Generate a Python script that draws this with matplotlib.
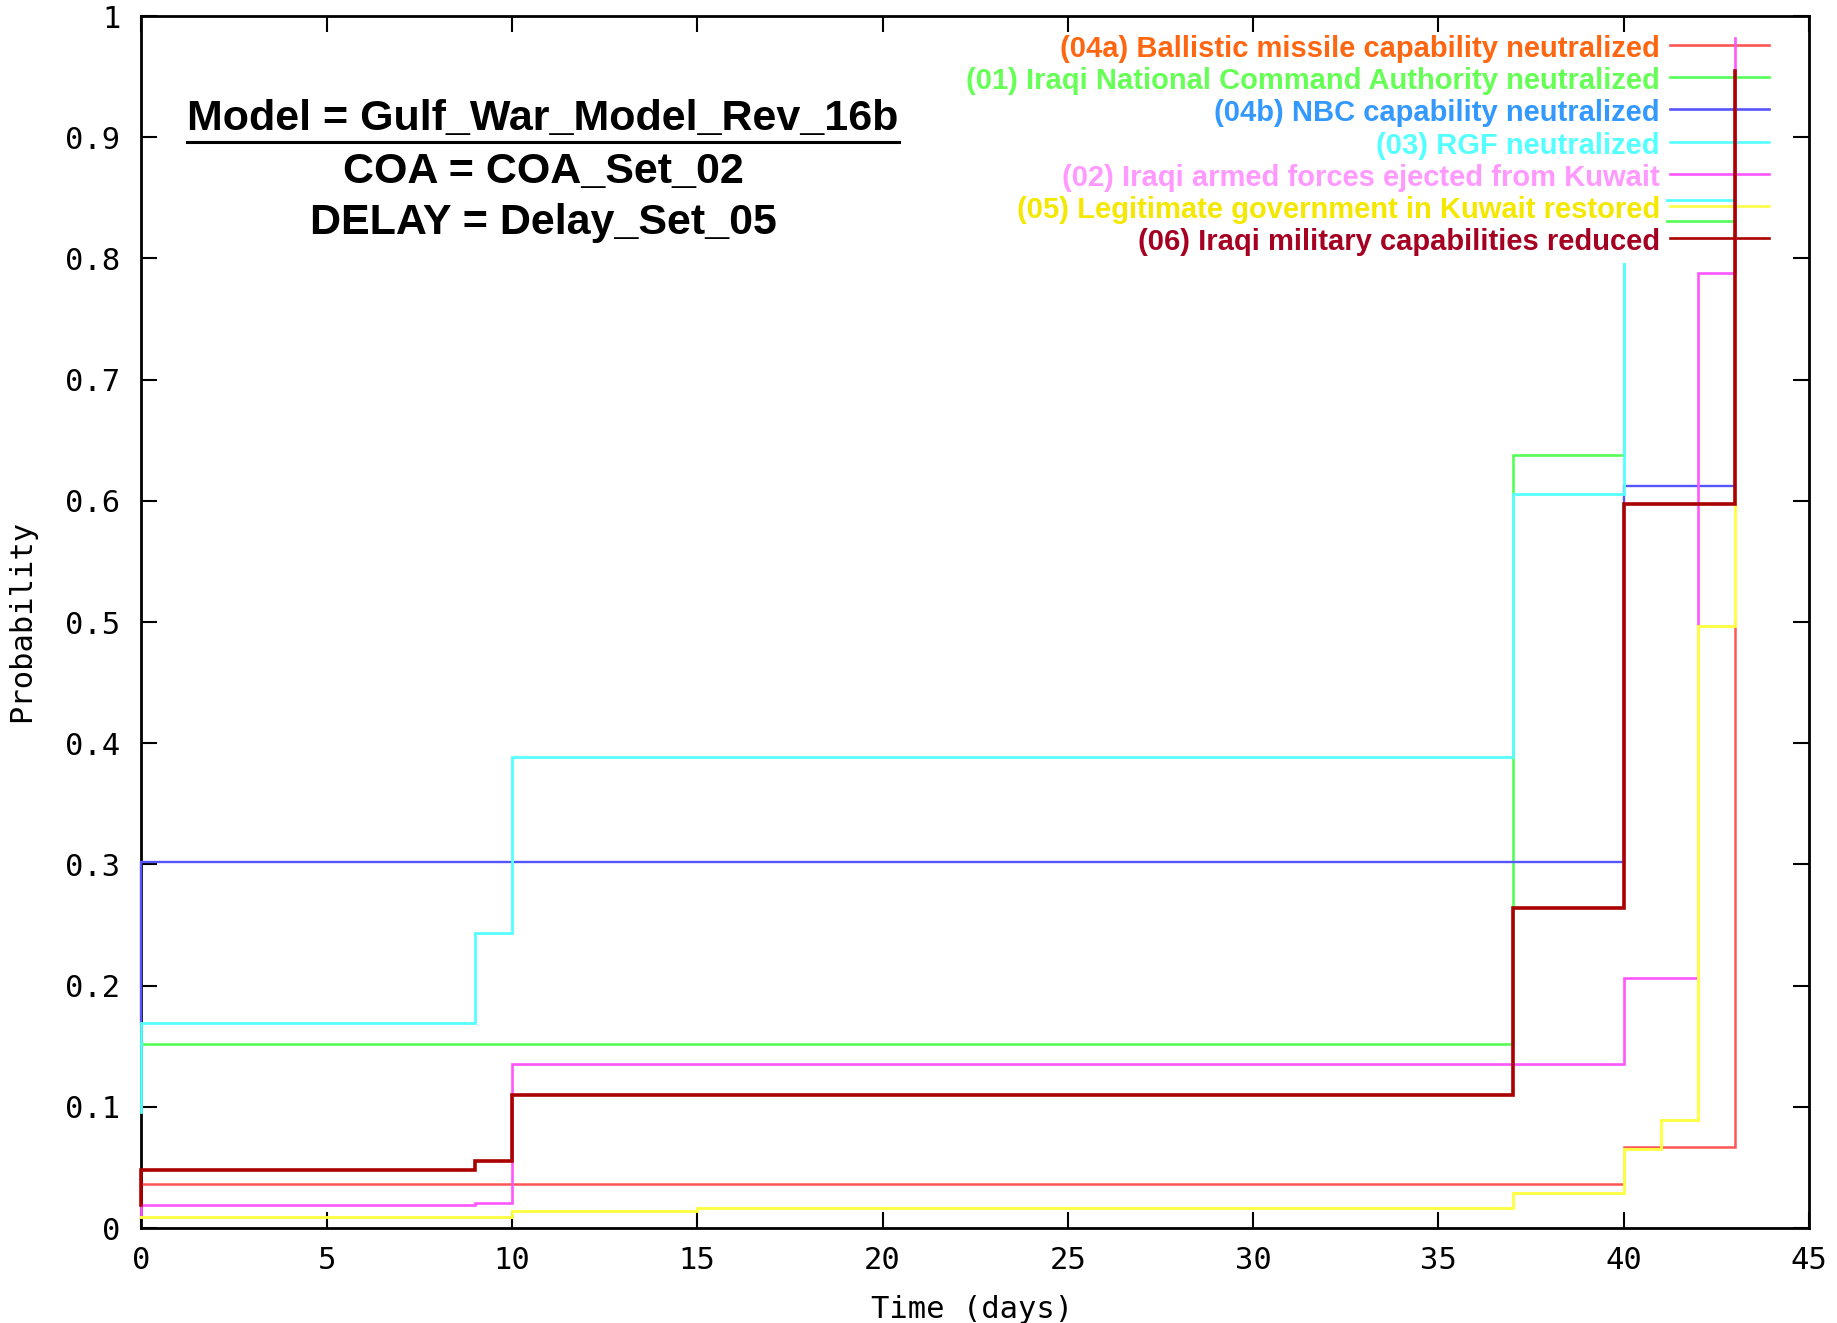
import matplotlib
matplotlib.use("Agg")
import matplotlib.pyplot as plt
from matplotlib.lines import Line2D
from matplotlib.patches import Rectangle

# ---------------- data ----------------
labels = [
    "(04a) Ballistic missile capability neutralized",
    "(01) Iraqi National Command Authority neutralized",
    "(04b) NBC capability neutralized",
    "(03) RGF neutralized",
    "(02) Iraqi armed forces ejected from Kuwait",
    "(05) Legitimate government in Kuwait restored",
    "(06) Iraqi military capabilities reduced",
]

t_04a = [0, 40, 43]
p_04a = [0.036, 0.067, 0.50]

t_01 = [0, 37, 40, 43]
p_01 = [0.1515, 0.638, 0.831, 0.831]

t_04b = [0, 0, 40, 43]
p_04b = [0.17, 0.302, 0.612, 0.612]

t_03 = [0, 0, 9, 10, 37, 40, 43]
p_03 = [0.096, 0.169, 0.243, 0.389, 0.606, 0.848, 0.848]

t_02 = [0, 0, 9, 10, 40, 42, 43]
p_02 = [0.011, 0.019, 0.021, 0.135, 0.206, 0.788, 0.982]

t_05 = [0, 10, 15, 37, 40, 41, 42, 43]
p_05 = [0.0088, 0.0138, 0.0165, 0.029, 0.065, 0.089, 0.497, 0.60]

t_06 = [0, 0, 9, 10, 37, 40, 43]
p_06 = [0.019, 0.048, 0.055, 0.110, 0.264, 0.597, 0.955]

series_t = [t_04a, t_01, t_04b, t_03, t_02, t_05, t_06]
series_p = [p_04a, p_01, p_04b, p_03, p_02, p_05, p_06]

line_colors = ["#ff5555", "#55ff55", "#5555ff", "#55ffff", "#ff55ff", "#ffff44", "#aa0000"]
text_colors = ["#ff6611", "#66ff55", "#3399ff", "#55ffff", "#ff99ff", "#f5e800", "#a50022"]
line_widths = [1.8, 1.9, 1.7, 2.0, 1.9, 2.1, 2.6]

x_ticks = [0, 5, 10, 15, 20, 25, 30, 35, 40, 45]
y_ticks = [0, 0.1, 0.2, 0.3, 0.4, 0.5, 0.6, 0.7, 0.8, 0.9, 1.0]
y_tick_labels = ["0", "0.1", "0.2", "0.3", "0.4", "0.5", "0.6", "0.7", "0.8", "0.9", "1"]

title_lines = ["Model = Gulf_War_Model_Rev_16b", "COA = COA_Set_02", "DELAY = Delay_Set_05"]

# ---------------- figure ----------------
W, H = 1837, 1323
fig = plt.figure(figsize=(W / 100, H / 100), dpi=100)
ax = fig.add_axes([141.3 / W, 1 - 1228 / H, (1809 - 141.3) / W, (1228 - 16) / H])

for t, p, c, lw in zip(series_t, series_p, line_colors, line_widths):
    ax.step(t, p, where="post", color=c, lw=lw, solid_joinstyle="miter",
            zorder=3, clip_on=False)

ax.set_xlim(0, 45)
ax.set_ylim(0, 1)
ax.set_xticks(x_ticks)
ax.set_xticklabels([str(v) for v in x_ticks])
ax.set_yticks(y_ticks)
ax.set_yticklabels(y_tick_labels)

mono = "DejaVu Sans Mono"
ax.tick_params(direction="in", length=11.5, width=1.5, top=True, right=True,
               labelsize=22, colors="black")
ax.tick_params(axis="x", pad=13)
ax.tick_params(axis="y", pad=15)
for lab in ax.get_xticklabels() + ax.get_yticklabels():
    lab.set_family(mono)
for s in ax.spines.values():
    s.set_linewidth(2.0)

fig.text(972 / W, 1 - 1309 / H, "Time (days)", family=mono, fontsize=22,
         ha="center", va="center")
fig.text(22 / W, 1 - 621 / H, "Probability", family=mono, fontsize=22,
         ha="center", va="center", rotation=90)

narrow = ["Liberation Sans Narrow", "Liberation Sans", "DejaVu Sans"]


def ax_x(px):
    return (px - 141.3) / (1809 - 141.3)


def ax_y(py):
    return (1228 - py) / (1228 - 16)


# opaque key box (hides data under the key texts)
ax.add_patch(Rectangle((ax_x(900), ax_y(263)), ax_x(1666) - ax_x(900), ax_y(35) - ax_y(263),
                       transform=ax.transAxes, facecolor="white", edgecolor="none", zorder=3.5))

row_y = [45.3, 77.3, 109.3, 142.3, 174.3, 206.3, 238.3]
for lab, tc, lc, ry in zip(labels, text_colors, line_colors, row_y):
    ax.text(ax_x(1660), ax_y(ry + 3.5), lab, transform=ax.transAxes, ha="right", va="center",
            color=tc, fontsize=21, fontweight="bold", family=narrow, zorder=4)
    ax.add_line(Line2D([ax_x(1670), ax_x(1769)], [ax_y(ry), ax_y(ry)], transform=ax.transAxes,
                       color=lc, lw=1.9, zorder=2.8, clip_on=False))

# title block
title_y = [119, 172, 223]
title_texts = []
for s, ty in zip(title_lines, title_y):
    title_texts.append(ax.text(ax_x(543), ax_y(ty), s, transform=ax.transAxes, ha="center",
                               va="center", fontsize=31, fontweight="bold", family=narrow,
                               color="black", zorder=5))

fig.canvas.draw()
bb = title_texts[0].get_window_extent()
inv = ax.transAxes.inverted()
(x0, _), (x1, _) = inv.transform([[bb.x0, bb.y0], [bb.x1, bb.y0]])
ax.add_line(Line2D([x0, x1], [ax_y(142), ax_y(142)], transform=ax.transAxes,
                   color="black", lw=2.2, zorder=5))

fig.savefig("out.png", dpi=100)
